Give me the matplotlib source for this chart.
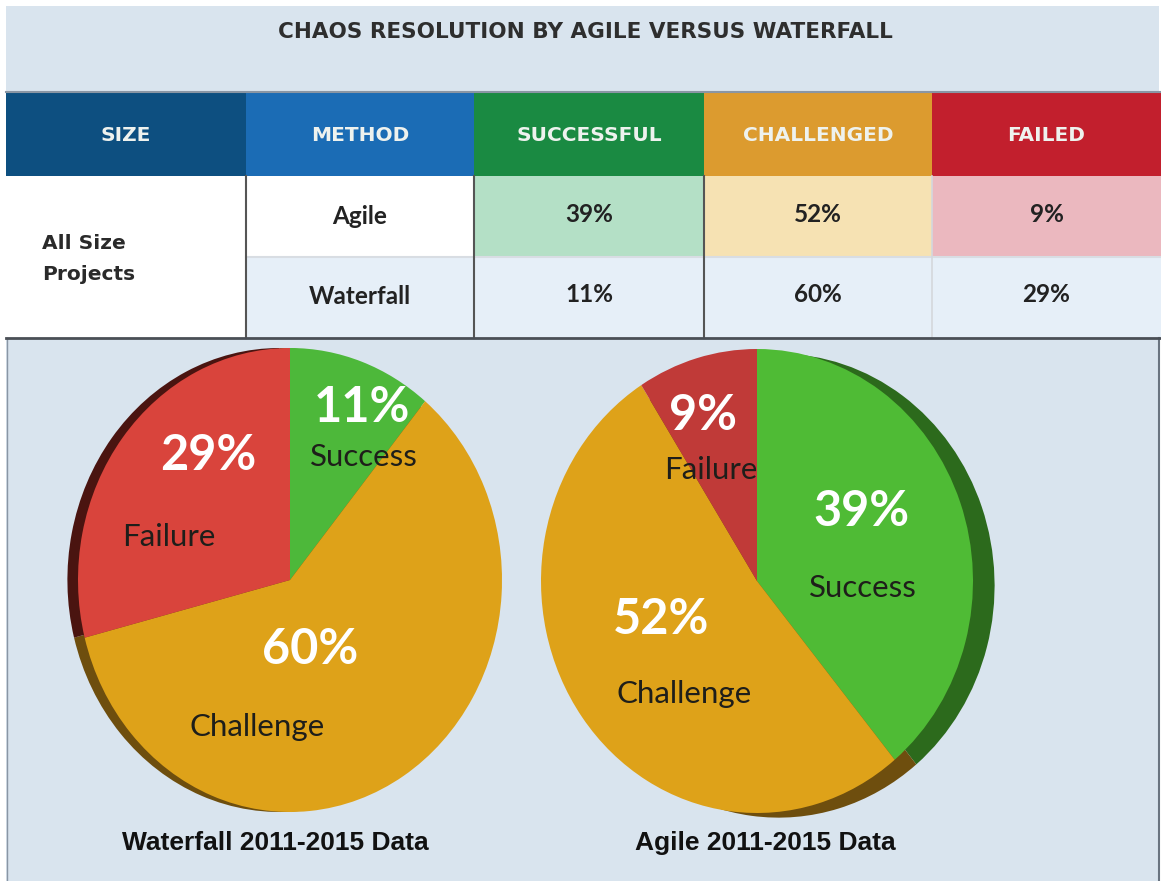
import matplotlib
matplotlib.use("Agg")
import matplotlib.pyplot as plt
from matplotlib.patches import Rectangle

# data
title = "CHAOS RESOLUTION BY AGILE VERSUS WATERFALL"
headers = ["SIZE", "METHOD", "SUCCESSFUL", "CHALLENGED", "FAILED"]
size_label = "All Size\nProjects"
methods = ["Agile", "Waterfall"]
agile = [39, 52, 9]          # successful, challenged, failed
waterfall = [11, 60, 29]
pie_names = ["Success", "Challenge", "Failure"]
captions = ["Waterfall 2011-2015 Data", "Agile 2011-2015 Data"]

W, H = 1161, 881
BG = "#d9e4ee"
head_cols = ["#0d4f80", "#1b6cb5", "#1a8a42", "#dc9b2f", "#c21f2d"]
agile_cells = ["#ffffff", "#ffffff", "#b4e0c6", "#f6e2b3", "#ebb8bf"]
water_cells = ["#ffffff", "#e6eff8", "#e6eff8", "#e6eff8", "#e6eff8"]
pie_cols = ["#4db83a", "#dea219", "#d9443c"]
agile_pie_cols = ["#4fbb35", "#dea219", "#c03a38"]
shade_cols = ["#2c6a1c", "#6e4e0e", "#4a1410"]

fig = plt.figure(figsize=(W / 100, H / 100), dpi=100)
fig.patch.set_facecolor("white")
ax = fig.add_axes([0, 0, 1, 1])
ax.set_xlim(0, W)
ax.set_ylim(H, 0)
ax.axis("off")

ax.add_patch(Rectangle((6, 6), W - 8, H - 6, facecolor=BG, edgecolor="none"))
ax.plot([7, 7], [338, H], color="#8a96a4", lw=1)
ax.plot([W - 2, W - 2], [338, H], color="#6a7480", lw=1.5)

cond = dict(family="DejaVu Sans", weight="bold")
ax.text(585, 32, title, ha="center", va="center", fontsize=15.5,
        color="#2e2e2e", **cond)

# table
xs = [6, 246, 474, 704, 932, W]
y_head, y_r1, y_r2, y_end = 93, 176, 257, 338
ax.plot([6, W], [92, 92], color="#8a96a4", lw=1.5)
for i, h in enumerate(headers):
    ax.add_patch(Rectangle((xs[i], y_head), xs[i + 1] - xs[i], y_r1 - y_head,
                           facecolor=head_cols[i], edgecolor="none"))
    ax.text((xs[i] + xs[i + 1]) / 2, (y_head + y_r1) / 2 + 1, h, ha="center",
            va="center", fontsize=14.5, color="#eef2ee", **cond)

ax.add_patch(Rectangle((xs[0], y_r1), xs[1] - xs[0], y_end - y_r1,
                       facecolor="white", edgecolor="none"))
rows = [(agile, agile_cells, y_r1), (waterfall, water_cells, y_r2)]
for r, (vals, cols, y0) in enumerate(rows):
    for i in range(1, 5):
        ax.add_patch(Rectangle((xs[i], y0), xs[i + 1] - xs[i], 81,
                               facecolor=cols[i], edgecolor="none"))
    ax.text((xs[1] + xs[2]) / 2, y0 + 40, methods[r], ha="center", va="center",
            fontsize=17.5, family="Lato", weight="bold", color="#222222")
    for i, v in enumerate(vals):
        ax.text((xs[i + 2] + xs[i + 3]) / 2, y0 + 38, f"{v}%", ha="center",
                va="center", fontsize=17.5, family="Lato", weight="bold",
                color="#222222")

ax.plot([xs[1], W], [y_r2, y_r2], color="#d8dde3", lw=1.5)
for x in xs[1:4]:
    ax.plot([x, x], [y_r1, y_end], color="#555555", lw=1.5)
ax.plot([xs[4], xs[4]], [y_r1, y_end], color="#d4d8dc", lw=1.2)
ax.plot([6, W], [y_end, y_end], color="#4a4f56", lw=2)
ax.text(42, 259, size_label, ha="left", va="center", fontsize=14.5,
        linespacing=1.8, color="#2a2a2a", **cond)


def pie_axes(cx, cy, rx, ry):
    pad = 1.2
    pa = fig.add_axes([(cx - rx * pad) / W, 1 - (cy + ry * pad) / H,
                       2 * rx * pad / W, 2 * ry * pad / H])
    return pa


def finish(pa):
    pa.set_xlim(-1.2, 1.2)
    pa.set_ylim(-1.2, 1.2)
    pa.set_aspect("auto")
    pa.axis("off")


# waterfall pie, shadow on the left
pa = pie_axes(290, 580, 212, 232)
pa.pie(waterfall, colors=shade_cols, startangle=90, counterclock=False,
       center=(-0.05, 0.0), radius=1.0, frame=True)
pa.pie(waterfall, colors=pie_cols, startangle=90, counterclock=False,
       radius=1.0, frame=True)
finish(pa)

# agile pie, shadow on the right
pb = pie_axes(757, 581, 216, 232)
pb.pie(agile, colors=shade_cols, startangle=90, counterclock=False,
       center=(0.1, -0.02), radius=1.0, frame=True)
pb.pie(agile, colors=agile_pie_cols, startangle=90, counterclock=False,
       radius=1.0, frame=True)
finish(pb)

top = fig.add_axes([0, 0, 1, 1], zorder=5)
top.set_xlim(0, W)
top.set_ylim(H, 0)
top.patch.set_alpha(0)
top.axis("off")

pct = dict(ha="center", va="center", fontsize=35, family="Lato",
           weight="bold", color="white")
name = dict(ha="center", va="center", fontsize=22.5, family="Lato",
            color="#1e1e1a")
# waterfall labels
top.text(362, 407, f"{waterfall[0]}%", **pct)
top.text(364, 457, pie_names[0], **name)
top.text(208, 455, f"{waterfall[2]}%", **pct)
top.text(169, 537, pie_names[2], **name)
top.text(310, 650, f"{waterfall[1]}%", **pct)
top.text(257, 727, pie_names[1], **name)
# agile labels
top.text(703, 415, f"{agile[2]}%", **pct)
top.text(711, 470, pie_names[2], **name)
top.text(861, 512, f"{agile[0]}%", **pct)
top.text(863, 588, pie_names[0], **name)
top.text(661, 620, f"{agile[1]}%", **pct)
top.text(684, 694, pie_names[1], **name)

cap = dict(ha="center", va="center", fontsize=19, family="Liberation Sans",
           weight="bold", color="#111111")
top.text(275, 843, captions[0], **cap)
top.text(765, 843, captions[1], **cap)

fig.savefig("out.png", dpi=100, facecolor=fig.get_facecolor())
